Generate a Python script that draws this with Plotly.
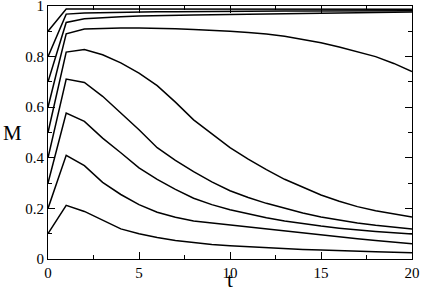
import plotly.graph_objects as go

t = list(range(0, 21))

m01 = [0.10, 0.212, 0.188, 0.155, 0.119, 0.100, 0.085, 0.073, 0.064, 0.057, 0.052,
       0.048, 0.044, 0.041, 0.038, 0.036, 0.033, 0.031, 0.029, 0.027, 0.025]
m02 = [0.20, 0.410, 0.369, 0.303, 0.255, 0.215, 0.185, 0.165, 0.150, 0.142, 0.133,
       0.126, 0.118, 0.110, 0.102, 0.094, 0.087, 0.080, 0.073, 0.066, 0.060]
m03 = [0.30, 0.577, 0.544, 0.478, 0.420, 0.360, 0.315, 0.275, 0.240, 0.215, 0.195,
       0.178, 0.163, 0.150, 0.139, 0.130, 0.122, 0.115, 0.109, 0.104, 0.099]
m04 = [0.40, 0.711, 0.698, 0.643, 0.577, 0.511, 0.440, 0.390, 0.345, 0.305, 0.270,
       0.243, 0.220, 0.200, 0.182, 0.166, 0.153, 0.142, 0.133, 0.125, 0.119]
m05 = [0.50, 0.818, 0.828, 0.807, 0.775, 0.735, 0.685, 0.620, 0.550, 0.495, 0.440,
       0.395, 0.353, 0.315, 0.283, 0.253, 0.228, 0.207, 0.191, 0.178, 0.166]
m06 = [0.60, 0.890, 0.909, 0.912, 0.913, 0.913, 0.912, 0.910, 0.907, 0.904, 0.900,
       0.895, 0.889, 0.880, 0.868, 0.855, 0.838, 0.820, 0.800, 0.773, 0.741]
m07 = [0.70, 0.935, 0.950, 0.955, 0.958, 0.960, 0.962, 0.963, 0.964, 0.965, 0.966,
       0.967, 0.968, 0.969, 0.970, 0.971, 0.972, 0.973, 0.974, 0.975, 0.976]
m08 = [0.80, 0.968, 0.972, 0.974, 0.975, 0.976, 0.977, 0.977, 0.978, 0.978, 0.979,
       0.979, 0.979, 0.980, 0.980, 0.980, 0.980, 0.981, 0.981, 0.981, 0.981]
m09 = [0.90, 0.988, 0.988, 0.988, 0.988, 0.988, 0.988, 0.988, 0.988, 0.988, 0.988,
       0.987, 0.987, 0.987, 0.987, 0.987, 0.987, 0.987, 0.987, 0.987, 0.987]

series = [m01, m02, m03, m04, m05, m06, m07, m08, m09]

x_ticks = [0, 5, 10, 15, 20]
y_ticks = [0, 0.2, 0.4, 0.6, 0.8, 1]
y_tick_text = ["0", "0.2", "0.4", "0.6", "0.8", "1"]

SERIF = "Liberation Serif, Times New Roman, DejaVu Serif, Noto Serif, serif"

fig = go.Figure()
for s in series:
    fig.add_trace(go.Scatter(x=t, y=s, mode="lines",
                             line=dict(color="black", width=1.5),
                             showlegend=False, hoverinfo="skip"))

font = dict(family=SERIF, size=15, color="black")
axis_common = dict(showgrid=False, zeroline=False, showline=True, linecolor="black",
                   linewidth=1.2, mirror="ticks", ticks="inside", ticklen=7,
                   tickwidth=1, tickcolor="black", tickfont=font,
                   ticklabeloverflow="allow", automargin=False)

fig.update_xaxes(range=[0, 20], tickvals=x_ticks, ticktext=[str(v) for v in x_ticks],
                 minor=dict(ticks="inside", ticklen=3.5, dtick=2.5, tickcolor="black",
                            showgrid=False),
                 **axis_common)
fig.update_yaxes(range=[0, 1], tickvals=y_ticks, ticktext=y_tick_text,
                 minor=dict(ticks="inside", ticklen=3.5, dtick=0.1, tickcolor="black",
                            showgrid=False),
                 **axis_common)

fig.add_annotation(text="M", xref="paper", yref="paper", x=-0.098, y=0.5,
                   xanchor="center", yanchor="middle", showarrow=False,
                   font=dict(family=SERIF, size=21, color="black"))
fig.add_annotation(text="t", xref="paper", yref="paper", x=0.5, y=-0.137,
                   xanchor="center", yanchor="bottom", showarrow=False,
                   font=dict(family=SERIF, size=21, color="black"))

fig.update_layout(width=421, height=294,
                  font=dict(family=SERIF, color="black"),
                  margin=dict(l=48, r=9, t=6, b=35, autoexpand=False),
                  paper_bgcolor="white", plot_bgcolor="white")

fig.write_html("out.html", config={"displayModeBar": False},
               post_script="document.body.style.margin='0';document.body.style.padding='0';")
